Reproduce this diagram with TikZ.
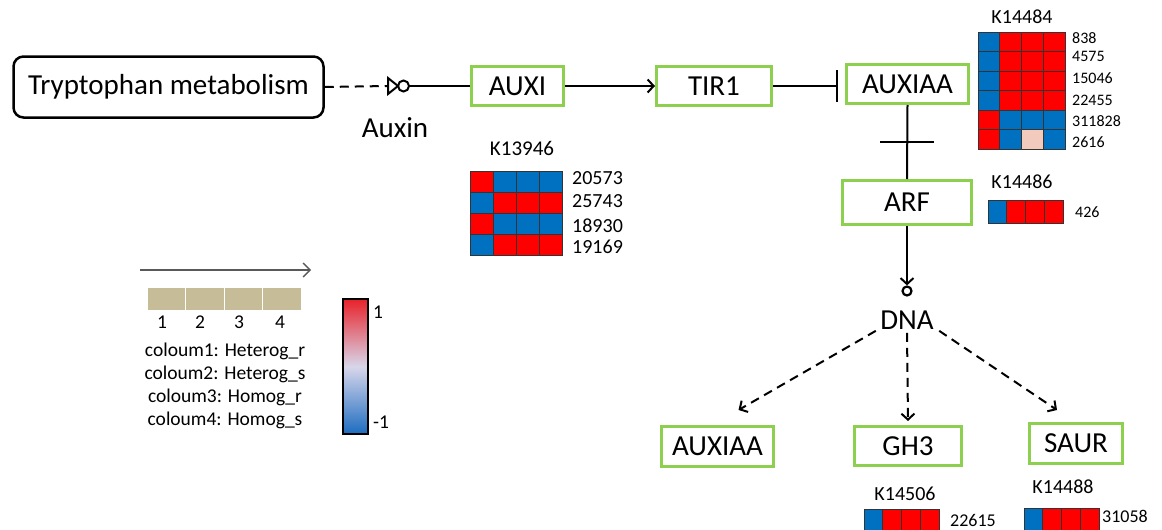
\documentclass[tikz,border=0pt]{standalone}
\usepackage{fontspec}
\setmainfont{Carlito}
\usetikzlibrary{arrows.meta}

\definecolor{genegreen}{HTML}{8DCF4F}
\definecolor{hb}{HTML}{0070C0}
\definecolor{hr}{HTML}{FF0000}
\definecolor{hp}{HTML}{F3CBBD}
\definecolor{legendtan}{HTML}{C6BD98}
\definecolor{cbred}{HTML}{E8222A}
\definecolor{cbmid}{HTML}{D8D6EA}
\definecolor{cbblue}{HTML}{1C6CC0}

\newcommand{\bigtxt}{\fontsize{29}{33}\selectfont}
\newcommand{\midtxt}{\fontsize{20}{24}\selectfont}
\newcommand{\smalltxt}{\fontsize{16}{19}\selectfont}

% one heatmap: x, y of top left corner, cell width, cell height, rows
\newcommand{\heatgrid}[5]{%
  \foreach \hrow [count=\j] in {#5} {
    \foreach \hc [count=\i] in \hrow {
      \draw[heatcell, fill=\hc] ({#1+(\i-1)*#3},{#2+(\j-1)*#4}) rectangle ++(#3,#4);
    }
  }
}

\tikzset{
  gene/.style={draw=genegreen, line width=3pt, inner sep=0pt, font=\bigtxt},
  pathway/.style={draw, line width=2.5pt, rounded corners=10pt, inner sep=0pt, font=\bigtxt},
  link/.style={line width=2pt},
  dashlink/.style={line width=2pt, dash pattern=on 9pt off 6pt},
  heatcell/.style={draw=black!80, line width=0.8pt},
  heattitle/.style={font=\midtxt},
  heatlabel/.style={anchor=west, inner sep=0pt},
  legendtxt/.style={font=\fontsize{19.5}{22}\selectfont},
  >={Straight Barb[length=6pt,width=13pt]}
}

\begin{document}
\begin{tikzpicture}[x=1pt, y=-1pt]
  \useasboundingbox (0,0) rectangle (1162,530);
  \fill[white] (0,0) rectangle (1162,530);

  % main chain
  \node[pathway, minimum width=310pt, minimum height=61pt] (tryp) at (168.5,87) {Tryptophan metabolism};
  \coordinate (auxtri) at (388,86);
  \coordinate (auxring) at (403.5,86);
  \node[font=\bigtxt] (auxin) at (395,128) {Auxin};
  \node[gene, minimum width=92pt, minimum height=39pt] (auxi) at (517.5,86) {AUXI};
  \node[gene, minimum width=115pt, minimum height=39pt] (tir1) at (714,86) {TIR1};
  \node[gene, minimum width=122pt, minimum height=39pt] (auxiaa) at (907.5,84) {AUXIAA};
  \node[gene, minimum width=129pt, minimum height=44pt] (arf) at (907,202.5) {ARF};
  \node[draw, circle, line width=2.2pt, inner sep=0pt, minimum size=9pt] (dnaring) at (907,291) {};
  \node[font=\bigtxt] (dna) at (907,320) {DNA};
  \node[gene, minimum width=112pt, minimum height=40pt] (auxiaab) at (717.5,446.5) {AUXIAA};
  \node[gene, minimum width=107pt, minimum height=39pt] (gh3) at (908,446) {GH3};
  \node[gene, minimum width=93pt, minimum height=40pt] (saur) at (1076,443.5) {SAUR};

  \draw[dashlink] (tryp.east) -- (auxtri);
  \draw[link] (auxtri) ++(0,-8) -- ++(10,8) -- ++(-10,8) -- cycle;
  \draw[link] (auxring) circle (5.5);
  \draw[link] ([xshift=5.5pt]auxring) -- (auxi.west);
  \draw[link, ->] (auxi.east) -- (tir1.west);
  \draw[link, -{Bar[width=32pt]}] (tir1.east) -- ([xshift=-7pt]auxiaa.west |- tir1.east);
  \draw[link] (auxiaa.south) -- (arf.north) coordinate[midway] (cross);
  \draw[link] ([xshift=-27pt]cross) -- ([xshift=27pt]cross);
  \draw[link, ->] (arf.south) -- (dnaring.north);
  \draw[dashlink, ->] ([xshift=-1pt,yshift=2pt]dna.south west) -- ([xshift=21pt,yshift=15pt]auxiaab.north);
  \draw[dashlink, ->] (dna.south) -- ([yshift=4pt]gh3.north);
  \draw[dashlink, ->] ([xshift=2pt,yshift=2pt]dna.south east) -- ([xshift=-19pt,yshift=12pt]saur.north);

  % heatmaps
  \node[heattitle] (k14484) at (1022,17) {K14484};
  \heatgrid{978}{32}{21.75}{19.5}{{hb,hr,hr,hr},{hb,hr,hr,hr},{hb,hr,hr,hr},{hb,hr,hr,hr},{hr,hb,hb,hb},{hr,hb,hp,hb}}
  \begin{scope}[every node/.style={heatlabel, font=\smalltxt}]
    \node (k14484a) at (1072,38) {838};
    \node (k14484b) at (1072,56) {4575};
    \node (k14484c) at (1072,78) {15046};
    \node (k14484d) at (1072,100) {22455};
    \node (k14484e) at (1072,121) {311828};
    \node (k14484f) at (1072,142) {2616};
  \end{scope}

  \node[heattitle, font=\fontsize{21}{24}\selectfont] (k13946) at (522,148) {K13946};
  \heatgrid{470}{171}{23}{21}{{hr,hb,hb,hb},{hb,hr,hr,hr},{hr,hb,hb,hb},{hb,hr,hr,hr}}
  \begin{scope}[every node/.style={heatlabel, font=\midtxt}]
    \node (k13946a) at (572,178) {20573};
    \node (k13946b) at (572,201) {25743};
    \node (k13946c) at (572,226) {18930};
    \node (k13946d) at (572,247) {19169};
  \end{scope}

  \node[heattitle] (k14486) at (1022,182) {K14486};
  \heatgrid{988}{200}{18.75}{23}{{hb,hr,hr,hr}}
  \node[heatlabel, font=\smalltxt] (k14486a) at (1075,212) {426};

  \node[heattitle] (k14506) at (905,494) {K14506};
  \heatgrid{864}{509}{18.75}{22}{{hb,hr,hr,hr}}
  \node[heatlabel, font=\fontsize{18}{21}\selectfont] (k14506a) at (950,520) {22615};

  \node[heattitle] (k14488) at (1063,487) {K14488};
  \heatgrid{1024}{508}{18.75}{23}{{hb,hr,hr,hr}}
  \node[heatlabel, font=\fontsize{18}{21}\selectfont] (k14488a) at (1102,516) {31058};

  % legend
  \coordinate (lgstart) at (140,270);
  \coordinate (lgend) at (311,270);
  \draw[black!65, line width=1.3pt, -{Straight Barb[length=7pt,width=14pt]}] (lgstart) -- (lgend);
  \foreach \i in {0,...,3}
    \fill[legendtan] ({147.5+\i*38.5},288) rectangle ++(37.5,22);
  \foreach \n/\x in {1/162,2/200,3/239,4/280}
    \node[legendtxt] (num\n) at (\x,322) {\n};
  \node[legendtxt] (col1) at (225,351) {coloum1: Heterog\_r};
  \node[legendtxt] (col2) at (225,374) {coloum2: Heterog\_s};
  \node[legendtxt] (col3) at (225,397) {coloum3: Homog\_r};
  \node[legendtxt] (col4) at (225,420) {coloum4: Homog\_s};

  \shade[top color=cbred, bottom color=cbblue, middle color=cbmid] (343,299) rectangle (368,434);
  \draw[line width=2pt] (343,299) rectangle (368,434);
  \node[heatlabel, legendtxt] (cbtop) at (373,312) {1};
  \node[heatlabel, legendtxt] (cbbot) at (373,422) {-1};
\end{tikzpicture}
\end{document}
